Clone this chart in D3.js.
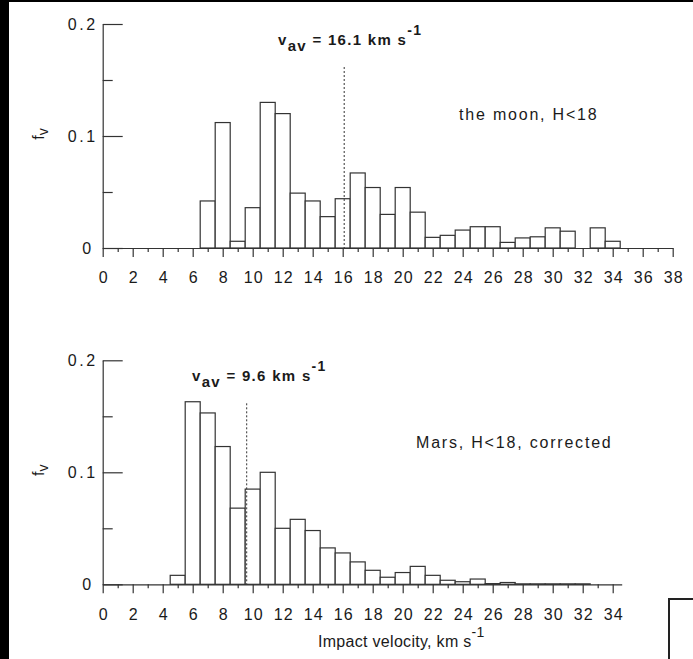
<!DOCTYPE html>
<html>
<head>
<meta charset="utf-8">
<script src="https://d3js.org/d3.v7.min.js"></script>
<style>
  body { margin: 0; background: #fff; }
  svg text { font-family: "Liberation Sans", Arial, sans-serif; fill: #1a1a1a; }
  .axis path, .axis line { stroke: #333; stroke-width: 1.2; }
  .bar { fill: #fff; stroke: #333; stroke-width: 1.2; }
  .mean { stroke: #333; stroke-width: 1; stroke-dasharray: 2,2; }
</style>
</head>
<body>
<script>
// bin centres (km/s) and fraction of impacts
var moonBins = [7, 8, 9, 10, 11, 12, 13, 14, 15, 16, 17, 18, 19, 20, 21, 22, 23, 24, 25, 26, 27, 28, 29, 30, 31, 32, 33, 34];
var moonFreq = [0.042, 0.112, 0.006, 0.036, 0.130, 0.120, 0.049, 0.042, 0.028, 0.044, 0.067, 0.054, 0.030, 0.054, 0.032,
                0.0095, 0.0113, 0.016, 0.019, 0.019, 0.005, 0.009, 0.010, 0.018, 0.015, 0, 0.018, 0.006];
var marsBins = [5, 6, 7, 8, 9, 10, 11, 12, 13, 14, 15, 16, 17, 18, 19, 20, 21, 22, 23, 24, 25, 26, 27, 28, 29, 30, 31, 32];
var marsFreq = [0.008, 0.163, 0.153, 0.123, 0.068, 0.085, 0.100, 0.050, 0.058, 0.048, 0.0325, 0.028, 0.020, 0.0125, 0.0063,
                0.0105, 0.016, 0.008, 0.0036, 0.0023, 0.0047, 0.0006, 0.0016, 0.0004, 0.0004, 0.0004, 0.0004, 0.0004];
var moonTicks = [0, 2, 4, 6, 8, 10, 12, 14, 16, 18, 20, 22, 24, 26, 28, 30, 32, 34, 36, 38];
var marsTicks = [0, 2, 4, 6, 8, 10, 12, 14, 16, 18, 20, 22, 24, 26, 28, 30, 32, 34];
var yTicks = [0, 0.1, 0.2];
var yMinor = [0.05, 0.15];
var moonMean = 16.1, marsMean = 9.6;

var W = 693, H = 659;
var svg = d3.select("body").append("svg").attr("width", W).attr("height", H);
svg.append("rect").attr("width", W).attr("height", H).attr("fill", "#fff");

function panel(o) {
  var x = d3.scaleLinear().domain([0, o.xMax]).range([102.7, 102.7 + 15 * o.xMax]);
  var y = d3.scaleLinear().domain([0, 0.2]).range([o.base, o.base - 224]);
  var g = svg.append("g");

  // bars, one unit wide, centred on each integer velocity
  g.selectAll("rect.bar")
    .data(o.bins.map(function(b, i) { return {v: b, f: o.freq[i]}; }))
    .enter().append("rect")
      .attr("class", "bar")
      .attr("x", function(d) { return x(d.v - 0.5); })
      .attr("width", function(d) { return x(d.v + 0.5) - x(d.v - 0.5); })
      .attr("y", function(d) { return y(d.f); })
      .attr("height", function(d) { return y(0) - y(d.f); });

  // x axis: long ticks at even values, short ones between
  var odd = o.ticks.slice(0, -1).map(function(t) { return t + 1; });
  g.append("g").attr("class", "axis")
    .attr("transform", "translate(0," + y(0) + ")")
    .call(d3.axisBottom(x).tickValues(odd).tickSize(4).tickSizeOuter(0).tickFormat(""));
  var xa = g.append("g").attr("class", "axis")
    .attr("transform", "translate(0," + y(0) + ")")
    .call(d3.axisBottom(x).tickValues(o.ticks).tickSize(9).tickSizeOuter(0).tickPadding(15));
  xa.select(".domain").remove();
  xa.selectAll("text").attr("font-size", 16).attr("letter-spacing", 1.2).attr("dx", 0.6);

  // y axis with ticks pointing into the plot
  g.append("g").attr("class", "axis")
    .attr("transform", "translate(" + x(0) + ",0)")
    .call(d3.axisRight(y).tickValues(yTicks).tickSize(20).tickSizeOuter(0).tickFormat(""));
  g.append("g").attr("class", "axis")
    .attr("transform", "translate(" + x(0) + ",0)")
    .call(d3.axisRight(y).tickValues(yMinor).tickSize(10).tickSizeOuter(0).tickFormat(""))
    .select(".domain").remove();
  g.selectAll("text.ylab")
    .data(yTicks).enter().append("text")
      .attr("class", "ylab")
      .attr("x", function(d) { return d === 0 ? x(0) - 9 : x(0) - 5; })
      .attr("y", function(d) { return y(d); })
      .attr("dy", "0.35em")
      .attr("text-anchor", "end")
      .attr("font-size", 16)
      .attr("letter-spacing", 2.6)
      .text(function(d) { return d === 0 ? "0" : d.toFixed(1); });

  // f_v label
  var fl = g.append("text")
    .attr("transform", "translate(44," + (y(0.1) - 2) + ") rotate(-90)")
    .attr("text-anchor", "middle")
    .attr("font-size", 16);
  fl.append("tspan").text("f");
  fl.append("tspan").attr("dy", 4).attr("font-size", 14).text("v");

  // mean velocity
  g.append("line").attr("class", "mean")
    .attr("x1", x(o.mean)).attr("x2", x(o.mean))
    .attr("y1", y(0.2) + 43).attr("y2", y(0));

  var t = g.append("text")
    .attr("x", o.annX).attr("y", y(0.2) + 21)
    .attr("font-size", 15).attr("font-weight", "bold").attr("letter-spacing", 1.3);
  t.append("tspan").text("v");
  t.append("tspan").attr("dy", 6).text("av");
  t.append("tspan").attr("dy", -6).text(" = " + o.mean + " km s");
  t.append("tspan").attr("dy", -10).attr("font-size", 14).text("-1");

  g.append("text")
    .attr("x", o.labX).attr("y", o.labY)
    .attr("font-size", 16).attr("letter-spacing", 1.8)
    .text(o.label);

  return {x: x, y: y};
}

panel({xMax: 38, base: 248, ticks: moonTicks, bins: moonBins, freq: moonFreq, mean: moonMean,
       annX: 278, label: "the moon, H<18", labX: 459, labY: 120});
panel({xMax: 34.6, base: 584.3, ticks: marsTicks, bins: marsBins, freq: marsFreq, mean: marsMean,
       annX: 192, label: "Mars, H<18, corrected", labX: 416, labY: 448});

// axis title
var xt = svg.append("text").attr("x", 318).attr("y", 647)
  .attr("font-size", 16).attr("letter-spacing", 0.3);
xt.append("tspan").text("Impact velocity, km s");
xt.append("tspan").attr("dy", -10).attr("font-size", 14).text("-1");

// scanned-page edges: black frame strip and a cut-off box
svg.append("rect").attr("x", 0).attr("y", 0).attr("width", 9).attr("height", H).attr("fill", "#000");
svg.append("rect").attr("x", 0).attr("y", 0).attr("width", W).attr("height", 2).attr("fill", "#000");
svg.append("rect").attr("x", 669).attr("y", 599).attr("width", 40).attr("height", 80)
  .attr("fill", "#fff").attr("stroke", "#222").attr("stroke-width", 2);
</script>
</body>
</html>
